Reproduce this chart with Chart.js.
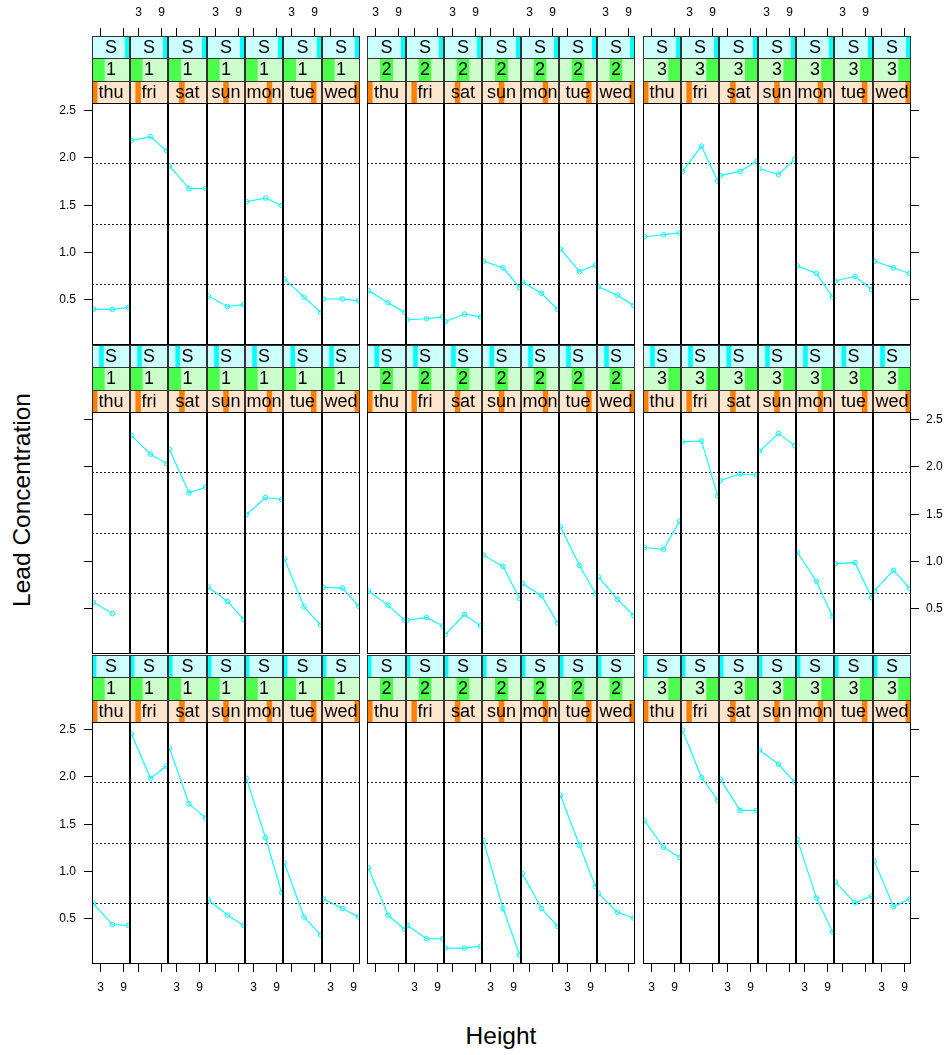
<!DOCTYPE html>
<html>
<head>
<meta charset="utf-8">
<title>Lead Concentration by Height</title>
<script src="https://cdn.jsdelivr.net/npm/chart.js@4.4.0/dist/chart.umd.min.js"></script>
<style>
  body { margin: 0; background: #fff; }
  #page { position: relative; width: 948px; height: 1055px; overflow: hidden;
          font-family: "Liberation Sans", Arial, sans-serif; }
  #page canvas { position: absolute; }
  .axis-title { position: absolute; font-size: 24.5px; line-height: 24.5px; color: #000; white-space: nowrap; }
  #ylab { left: 22px; top: 500px; transform: translate(-50%, -50%) rotate(-90deg); }
  #xlab { left: 501px; top: 1024px; transform: translateX(-50%); }
</style>
</head>
<body>
<div id="page">
  <div class="axis-title" id="ylab">Lead Concentration</div>
  <div class="axis-title" id="xlab">Height</div>
</div>
<script>
const days = ['thu', 'fri', 'sat', 'sun', 'mon', 'tue', 'wed'];
const groups = ['1', '2', '3'];
const sampleLabel = 'S';
const heights = [1.3, 6.35, 10.6];
const heightTicks = [3, 9];
const leadTicks = [0.5, 1.0, 1.5, 2.0, 2.5];
const refLevels = [0.655, 1.295, 1.938];

// one entry per day (thu..wed), three heights each
const upper1 = [[0.39, 0.39, 0.41], [2.18, 2.22, 2.07], [1.91, 1.67, 1.67], [0.53, 0.42, 0.44], [1.53, 1.57, 1.49], [0.71, 0.52, 0.36], [0.50, 0.50, 0.48]];
const upper2 = [[0.59, 0.46, 0.36], [0.28, 0.29, 0.31], [0.26, 0.34, 0.31], [0.90, 0.83, 0.62], [0.68, 0.56, 0.39], [1.03, 0.79, 0.86], [0.63, 0.54, 0.43]];
const upper3 = [[1.16, 1.18, 1.20], [1.85, 2.12, 1.75], [1.81, 1.85, 1.96], [1.88, 1.82, 1.98], [0.85, 0.77, 0.52], [0.69, 0.74, 0.60], [0.90, 0.83, 0.77]];

const middle1 = [[0.56, 0.44, null], [2.33, 2.13, 2.03], [2.18, 1.72, 1.78], [0.72, 0.57, 0.38], [1.49, 1.67, 1.65], [1.02, 0.51, 0.32], [0.72, 0.71, 0.52]];
const middle2 = [[0.68, 0.53, 0.37], [0.37, 0.40, 0.31], [0.22, 0.43, 0.31], [1.06, 0.94, 0.60], [0.76, 0.63, 0.34], [1.36, 0.95, 0.65], [0.83, 0.59, 0.42]];
const middle3 = [[1.14, 1.12, 1.42], [2.26, 2.27, 1.69], [1.85, 1.92, 1.91], [2.16, 2.35, 2.22], [1.09, 0.78, 0.41], [0.97, 0.98, 0.61], [0.68, 0.90, 0.71]];

const lower1 = [[0.65, 0.43, 0.42], [2.45, 1.98, 2.11], [2.30, 1.71, 1.56], [0.69, 0.53, 0.42], [1.98, 1.35, 0.77], [1.08, 0.51, 0.32], [0.70, 0.60, 0.51]];
const lower2 = [[1.03, 0.53, 0.38], [0.42, 0.28, 0.28], [0.18, 0.18, 0.20], [1.32, 0.60, 0.11], [0.97, 0.60, 0.41], [1.80, 1.27, 0.83], [0.76, 0.56, 0.50]];
const lower3 = [[1.53, 1.25, 1.14], [2.49, 1.99, 1.75], [1.97, 1.64, 1.64], [2.28, 2.13, 1.94], [1.33, 0.71, 0.35], [0.88, 0.66, 0.73], [1.10, 0.62, 0.70]];

const rows = [[upper1, upper2, upper3], [middle1, middle2, middle3], [lower1, lower2, lower3]];

// layout of the trellis (page pixels)
const BLOCK_LEFT = [91.7, 367.3, 642.8];
const PANEL_W = 38.31;
const ROW_TOP = [36, 345, 655];
const STRIPS_H = 67;
const PLOT_H = 242;
const AXIS_T = 36, AXIS_B = 36, AXIS_L = 60, AXIS_R = 45;
const TICK_LEN = 8;
const X_RANGE = [0.93, 10.97];
const Y_RANGE = [0.012, 2.577];
// where the shaded S bar sits in each row's top strip
const S_BAR = [[0.87, 1.0], [0.19, 0.31], [0, 0.115]];

const STRIP_STYLE = [
  { bg: '#ccffff', bar: '#00ffff' },
  { bg: '#ccffcc', bar: '#4dff4d' },
  { bg: '#ffe5cc', bar: '#ff7f00' }
];
const LINE_COL = '#00ffff';
const FONT = '"Liberation Sans", Arial, sans-serif';

const page = document.getElementById('page');

// ticks and labels drawn from the chart's own x / y scales
function drawAxes(chart, ax) {
  const { ctx, chartArea: a } = chart;
  const xs = chart.scales.x, ys = chart.scales.y;
  ctx.save();
  ctx.strokeStyle = '#000';
  ctx.fillStyle = '#000';
  ctx.lineWidth = 1;
  ctx.font = '12px ' + FONT;
  ctx.textBaseline = 'middle';

  if (ax.top || ax.bottom) {
    ctx.textAlign = 'center';
    heightTicks.forEach(v => {
      const px = Math.round(xs.getPixelForValue(v)) + 0.5;
      const y0 = ax.top ? a.top - STRIPS_H : a.bottom;
      const y1 = ax.top ? y0 - TICK_LEN : y0 + TICK_LEN;
      ctx.beginPath();
      ctx.moveTo(px, y0);
      ctx.lineTo(px, y1);
      ctx.stroke();
      if (ax.xLabels) {
        ctx.fillText(String(v), px, ax.top ? y1 - 15.5 : y1 + 15.5);
      }
    });
  }
  if (ax.left || ax.right) {
    ctx.textAlign = ax.left ? 'right' : 'left';
    leadTicks.forEach(v => {
      const py = Math.round(ys.getPixelForValue(v)) + 0.5;
      const x0 = ax.left ? a.left : a.right;
      const x1 = ax.left ? x0 - TICK_LEN : x0 + TICK_LEN;
      ctx.beginPath();
      ctx.moveTo(x0, py);
      ctx.lineTo(x1, py);
      ctx.stroke();
      if (ax.yLabels) {
        ctx.fillText(v.toFixed(1), ax.left ? x1 - 8 : x1 + 7, py);
      }
    });
  }
  ctx.restore();
}

function panelPlugin(strips, ax) {
  return {
    id: 'panelFrame',
    beforeDatasetsDraw(chart) {
      const { ctx, chartArea: a } = chart;
      const ys = chart.scales.y;
      ctx.save();
      ctx.strokeStyle = '#222';
      ctx.lineWidth = 1;
      ctx.setLineDash([2, 2]);
      refLevels.forEach(v => {
        const py = Math.round(ys.getPixelForValue(v)) + 0.5;
        ctx.beginPath();
        ctx.moveTo(a.left, py);
        ctx.lineTo(a.right, py);
        ctx.stroke();
      });
      ctx.restore();
    },
    afterDraw(chart) {
      const { ctx, chartArea: a } = chart;
      const w = a.right - a.left;
      ctx.save();
      // strips, top to bottom
      strips.forEach((s, i) => {
        const y0 = Math.round(a.top - (3 - i) * STRIPS_H / 3);
        const y1 = Math.round(a.top - (2 - i) * STRIPS_H / 3);
        const st = STRIP_STYLE[i];
        ctx.save();
        ctx.beginPath();
        ctx.rect(a.left, y0, w, y1 - y0);
        ctx.clip();
        ctx.fillStyle = st.bg;
        ctx.fillRect(a.left, y0, w, y1 - y0);
        ctx.fillStyle = st.bar;
        const bx0 = a.left + s.from * w, bx1 = a.left + s.to * w;
        ctx.fillRect(bx0, y0, bx1 - bx0, y1 - y0);
        ctx.fillStyle = '#000';
        ctx.font = '18px ' + FONT;
        ctx.textAlign = 'center';
        ctx.textBaseline = 'middle';
        ctx.fillText(s.text, (a.left + a.right) / 2, (y0 + y1) / 2 + 1);
        ctx.restore();
        ctx.strokeStyle = '#333';
        ctx.lineWidth = 1;
        ctx.strokeRect(a.left + 0.5, y0 + 0.5, w - 1, y1 - y0);
      });
      ctx.strokeStyle = '#000';
      ctx.lineWidth = 1;
      ctx.strokeRect(a.left + 0.5, a.top + 0.5, w - 1, a.bottom - a.top - 1);
      ctx.restore();
      drawAxes(chart, ax);
    }
  };
}

function addPanel(r, g, c) {
  const k = g * 7 + c;
  const values = rows[r][g][c];
  const left = Math.round(BLOCK_LEFT[g] + c * PANEL_W);
  const right = Math.round(BLOCK_LEFT[g] + (c + 1) * PANEL_W);
  const padL = k === 0 ? AXIS_L : 0;
  const padR = k === 20 ? AXIS_R : 0;
  const padT = r === 0 ? AXIS_T : 0;
  const padB = r === 2 ? AXIS_B : 0;

  const cv = document.createElement('canvas');
  cv.width = right - left + padL + padR;
  cv.height = padT + STRIPS_H + PLOT_H + padB;
  cv.style.left = (left - padL) + 'px';
  cv.style.top = (ROW_TOP[r] - padT) + 'px';
  page.appendChild(cv);

  const ax = {
    top: r === 0,
    bottom: r === 2,
    left: k === 0,
    right: k === 20,
    xLabels: (r === 0 && k % 2 === 1) || (r === 2 && k % 2 === 0),
    yLabels: (k === 0 && r !== 1) || (k === 20 && r === 1)
  };

  const strips = [
    { text: sampleLabel, from: S_BAR[r][0], to: S_BAR[r][1] },
    { text: groups[g], from: g / 3, to: (g + 1) / 3 },
    { text: days[c], from: c / 7, to: (c + 1) / 7 }
  ];

  new Chart(cv, {
    type: 'line',
    data: {
      datasets: [{
        data: heights.map((h, i) => ({ x: h, y: values[i] })),
        borderColor: LINE_COL,
        borderWidth: 1.1,
        pointRadius: 2.3,
        pointBorderWidth: 1,
        pointBorderColor: LINE_COL,
        pointBackgroundColor: 'rgba(0,0,0,0)',
        tension: 0,
        clip: 0
      }]
    },
    options: {
      responsive: false,
      animation: false,
      devicePixelRatio: 1,
      events: [],
      layout: {
        autoPadding: false,
        padding: { top: padT + STRIPS_H, left: padL, right: padR, bottom: padB }
      },
      plugins: { legend: { display: false }, tooltip: { enabled: false } },
      scales: {
        x: { type: 'linear', min: X_RANGE[0], max: X_RANGE[1], display: false },
        y: { type: 'linear', min: Y_RANGE[0], max: Y_RANGE[1], display: false }
      }
    },
    plugins: [panelPlugin(strips, ax)]
  });
}

for (let r = 0; r < 3; r++) {
  for (let g = 0; g < 3; g++) {
    for (let c = 0; c < 7; c++) {
      addPanel(r, g, c);
    }
  }
}
</script>
</body>
</html>
